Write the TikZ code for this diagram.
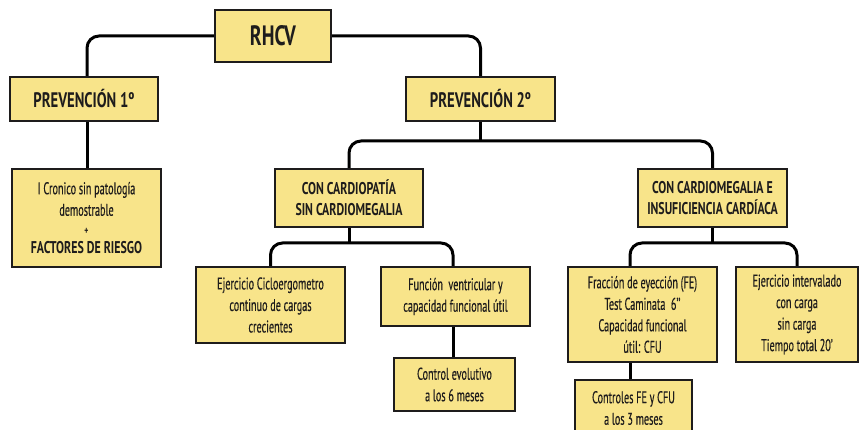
\documentclass[tikz,border=0pt]{standalone}
\usepackage{fontspec}
\usetikzlibrary{backgrounds}
\setmainfont{PT Sans}[FakeStretch=0.6,FakeBold=0.4]
\newfontfamily\titlefont{PT Sans Bold}[FakeStretch=0.7]
\definecolor{boxfill}{RGB}{248,228,138}
\definecolor{ink}{RGB}{30,28,28}
\begin{document}
\begin{tikzpicture}[x=1pt,y=-1pt,
  box/.style={draw=ink,line width=1.6pt,fill=boxfill,rectangle,inner sep=0pt,align=center,text=ink,
     font=\fontsize{17}{21.5}\selectfont},
  ttl/.style={box,font=\fontsize{17}{21}\titlefont},
  link/.style={draw=black,line width=3pt,rounded corners=12pt}]
\useasboundingbox (0,0) rectangle (860,430);
\begin{scope}
\clip (0,0) rectangle (860,430);
\coordinate (jA) at (480.5,141);
\coordinate (jB) at (349,243);
\coordinate (jC) at (712.5,243);
\coordinate (p1x) at (87,99);
\coordinate (frx) at (630,300);
\coordinate (fnx) at (453,300);

\node[box,minimum width=116,minimum height=52,font=\fontsize{28}{30}\titlefont] (rhcv) at (273,36) {RHCV};
\node[ttl,minimum width=148,minimum height=44,font=\fontsize{21}{22}\titlefont] (prev1) at (84,99) {PREVENCIÓN 1º};
\node[ttl,minimum width=149,minimum height=44,font=\fontsize{21}{22}\titlefont] (prev2) at (480.5,99) {PREVENCIÓN 2º};
\node[box,minimum width=149,minimum height=98] (icron) at (86.5,218) {I Cronico sin patología\\demostrable\\[-3pt]{\fontsize{11}{10}\titlefont +}\\[-2pt]{\fontsize{17}{21}\titlefont FACTORES DE RIESGO}};
\node[ttl,minimum width=148,minimum height=58] (ccsc) at (349,198) {CON CARDIOPATÍA\\SIN CARDIOMEGALIA};
\node[ttl,minimum width=149,minimum height=58] (ccic) at (712.5,198) {CON CARDIOMEGALIA E\\INSUFICIENCIA CARDÍACA};
\node[box,minimum width=149,minimum height=76] (ejer) at (270.5,305) {Ejercicio Cicloergometro\\continuo de cargas\\crecientes};
\node[box,minimum width=149,minimum height=59] (func) at (455.5,296.5) {Función\ \ ventricular y\\capacidad funcional útil};
\node[box,minimum width=121,minimum height=53] (ctrl6) at (454.5,384.5) {Control evolutivo\\a los 6 meses};
\node[box,minimum width=149,minimum height=95] (frac) at (642.5,314.5) {Fracción de eyección (FE)\\Test Caminata\ \ 6’’\\Capacidad funcional\\útil: CFU};
\node[box,minimum width=122,minimum height=95] (ejint) at (797,314.5) {Ejercicio intervalado\\con carga\\sin carga\\Tiempo total 20’};
\node[box,minimum width=117,minimum height=56] (ctrl3) at (633.5,408) {Controles FE y CFU\\a los 3 meses};
\end{scope}
\begin{pgfonlayer}{background}
\path[link] (prev1.north -| p1x) |- (rhcv.west);
\path[link] (rhcv.east) -| (prev2.north);
\path[link] (prev1.south -| p1x) -- (icron.north -| p1x);
\path[link] (prev2.south) -- (jA);
\path[link] (ccsc.north) |- (jA) -| (ccic.north);
\path[link] (ccsc.south) -- (jB);
\path[link] (ejer.north) |- (jB) -| (func.north -| fnx);
\path[link] (func.south -| fnx) -- (ctrl6.north -| fnx);
\path[link] (ccic.south) -- (jC);
\path[link] (frac.north -| frx) |- (jC) -| (ejint.north);
\path[link] (frac.south -| frx) -- (ctrl3.north -| frx);
\end{pgfonlayer}
\end{tikzpicture}
\end{document}
